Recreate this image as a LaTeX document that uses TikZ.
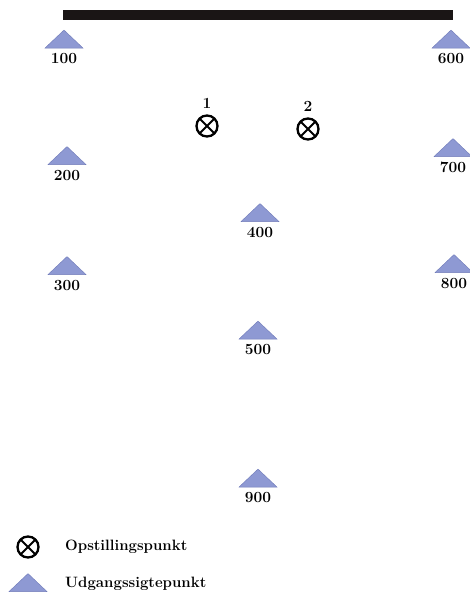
\documentclass[tikz,border=0pt]{standalone}
\usepackage{fontspec}
\usepackage{tikz}
\usetikzlibrary{positioning,shapes.geometric}
\definecolor{Sight}{HTML}{8E99D3}
\definecolor{SightEdge}{HTML}{6F7AB8}
\definecolor{Bar}{HTML}{1A1515}

\begin{document}
\begin{tikzpicture}[x=1pt,y=-1pt,
    sight/.style={isosceles triangle,isosceles triangle stretches,shape border rotate=90,minimum width=38pt,minimum height=18pt,inner sep=0pt,fill=Sight,draw=SightEdge,line width=0.4pt},
    lbl/.style={font=\bfseries\fontsize{15.5}{17}\selectfont,inner sep=0pt},
    station/.style={circle,draw=black,line width=2.3pt,minimum size=21pt,inner sep=0pt,
      path picture={\draw[line width=2pt] (path picture bounding box.north west) -- (path picture bounding box.south east) (path picture bounding box.north east) -- (path picture bounding box.south west);}},
    legtext/.style={font=\bfseries\fontsize{15}{17}\selectfont,anchor=west,inner sep=0pt}
]
\useasboundingbox (0,0) rectangle (470,600);
% wall
\fill[Bar] (63,10) rectangle (453,20);
% sight points
\node[sight,label={[lbl,label distance=5pt]below:100}] (p100) at (64,40.5) {};
\node[sight,label={[lbl,label distance=5pt]below:600}] (p600) at (451,40.5) {};
\node[sight,label={[lbl,label distance=5pt]below:200}] (p200) at (67,157) {};
\node[sight,label={[lbl,label distance=5pt]below:700}] (p700) at (453,149) {};
\node[sight,label={[lbl,label distance=5pt]below:400}] (p400) at (260,214) {};
\node[sight,label={[lbl,label distance=5pt]below:300}] (p300) at (67,267) {};
\node[sight,label={[lbl,label distance=5pt]below:800}] (p800) at (454,265) {};
\node[sight,label={[lbl,label distance=5pt]below:500}] (p500) at (258,331.5) {};
\node[sight,label={[lbl,label distance=5pt]below:900}] (p900) at (258,479.5) {};
% stations
\node[station,label={[lbl,label distance=6pt]above:1}] (s1) at (207,126) {};
\node[station,label={[lbl,label distance=6pt]above:2}] (s2) at (308,129) {};
% legend
\node[station] (legst) at (28,547) {};
\node[legtext] (legsttext) at (65,547) {Opstillingspunkt};
\node[sight] (legsp) at (28,584) {};
\node[legtext] (legsptext) at (65,584) {Udgangssigtepunkt};
\end{tikzpicture}
\end{document}
